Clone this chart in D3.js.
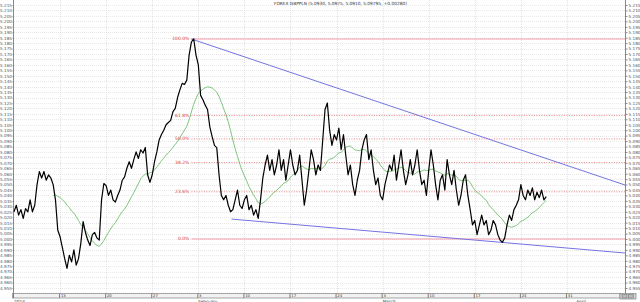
<!DOCTYPE html>
<html>
<head>
<meta charset="utf-8">
<script src="https://cdn.jsdelivr.net/npm/d3@7"></script>
<style>
  body{margin:0;background:#fff;}
  svg{display:block;font-family:"DejaVu Sans",sans-serif;}
</style>
</head>
<body>
<div id="container"></div>
<script>
// GBPPLN, 6-hour closes, one array per trading week (4 values a day)
let wkJan06 = [5.025,5.031,5.022,5.027, 5.019,5.028,5.025,5.036, 5.025,5.031,5.050,5.062, 5.056,5.062,5.054,5.059, 5.056,5.050,5.036,5.008];
let wkJan13 = [5.002,4.992,4.982,4.973, 4.985,4.979,4.990,4.976, 4.982,4.996,5.016,5.006, 4.999,4.994,5.004,5.006, 5.001,4.999,5.036,5.051];
let wkJan20 = [5.049,5.040,5.045,5.036, 5.034,5.040,5.045,5.054, 5.057,5.065,5.071,5.065, 5.073,5.080,5.074,5.082, 5.079,5.084,5.059,5.052];
let wkJan27 = [5.059,5.071,5.080,5.091, 5.096,5.100,5.105,5.107, 5.109,5.117,5.120,5.130, 5.137,5.143,5.142,5.146, 5.169,5.181,5.184,5.169];
let wkFeb03 = [5.160,5.132,5.128,5.123, 5.119,5.103,5.094,5.086, 5.084,5.059,5.040,5.036, 5.040,5.031,5.025,5.027, 5.036,5.045,5.031,5.028];
let wkFeb10 = [5.036,5.040,5.027,5.031, 5.022,5.027,5.019,5.036, 5.056,5.068,5.077,5.063, 5.073,5.059,5.068,5.082, 5.063,5.073,5.054,5.068];
let wkFeb17 = [5.082,5.068,5.059,5.063, 5.077,5.054,5.031,5.045, 5.063,5.082,5.073,5.059, 5.068,5.063,5.091,5.119, 5.125,5.100,5.086,5.096];
let wkFeb24 = [5.091,5.102,5.082,5.096, 5.077,5.059,5.068,5.050, 5.040,5.054,5.063,5.082, 5.091,5.096,5.073,5.082, 5.063,5.050,5.056,5.040];
let wkMar03 = [5.036,5.050,5.059,5.068, 5.063,5.077,5.054,5.068, 5.082,5.063,5.050,5.059, 5.073,5.059,5.068,5.082, 5.063,5.050,5.054,5.040];
let wkMar10 = [5.063,5.082,5.068,5.050, 5.036,5.054,5.059,5.045, 5.073,5.059,5.050,5.063, 5.045,5.031,5.040,5.054, 5.059,5.040,5.027,5.013];
let wkMar17 = [5.017,5.004,5.013,5.022, 5.013,5.017,5.004,5.008, 5.017,5.013,5.004,4.999, 4.997,5.001,5.013,5.022, 5.017,5.027,5.031,5.036];
let wkMar24 = [5.050,5.040,5.036,5.045, 5.040,5.047,5.036,5.043, 5.038,5.045,5.036,5.039];

let weekLabels = ["", "13", "20", "27", "3", "10", "17", "24", "3", "10", "17", "24", "31"];
let monthNames = ["2014", "February", "March", "April"];
let monthDays = [0, 20, 40, 61];

let fibLevels = [0, 23.6, 38.2, 50, 61.8, 100];
let fibHigh = 5.1838, fibLow = 5.0000, fibStartDay = 19.25;

// trendlines as [day, price] pairs
let upperTrend = [[19.25, 5.1838], [66.3, 5.0496]];
let lowerTrend = [[23.6, 5.0183], [66.3, 4.9871]];

let header = "FOREX GBPPLN (5.0930, 5.0975, 5.0910, 5.09795, +0.00280)";

let w = 640, h = 302;
let plotL = 14, plotR = 625, plotB = 293;

let closes = [].concat(wkJan06, wkJan13, wkJan20, wkJan27, wkFeb03, wkFeb10,
                       wkFeb17, wkFeb24, wkMar03, wkMar10, wkMar17, wkMar24);
let series = closes.map(function(v, i){ return {day: i/4, v: v}; });

// moving average (18 bars)
let maLen = 18;
let ma = [];
for (let i = maLen-1; i < series.length; i++) {
  ma.push({day: series[i].day, v: d3.mean(closes.slice(i-maLen+1, i+1))});
}

let svg = d3.select("#container").append("svg")
  .attr("width", w).attr("height", h);

let x = d3.scaleLinear().domain([0, 66.3]).range([plotL, plotR]);
let y = d3.scaleLinear().domain([4.95, 5.22]).range([293.4, -0.4]);

let yTicks = d3.range(991, 1044).map(function(i){ return +(i*0.005).toFixed(3); });
let weekDays = weekLabels.map(function(d, i){ return i*5; });

// grid
svg.append("g").selectAll("line").data(yTicks).enter().append("line")
  .attr("x1", plotL).attr("x2", plotR)
  .attr("y1", d=>Math.round(y(d))+0.5).attr("y2", d=>Math.round(y(d))+0.5)
  .attr("stroke", "#d8d8d8").attr("stroke-width", 0.6).attr("stroke-dasharray", "1,1");
svg.append("g").selectAll("line").data(weekDays.slice(1)).enter().append("line")
  .attr("x1", d=>Math.round(x(d))+0.5).attr("x2", d=>Math.round(x(d))+0.5)
  .attr("y1", 0).attr("y2", plotB)
  .attr("stroke", "#d0d0d0").attr("stroke-width", 0.6).attr("stroke-dasharray", "1,1");

// axes
let rightAxis = svg.append("g").attr("transform", "translate(" + (plotR+0.5) + ",0)")
  .call(d3.axisRight(y).tickValues(yTicks).tickSize(2).tickPadding(1).tickFormat(d3.format(".3f")));
let leftAxis = svg.append("g").attr("transform", "translate(" + (plotL-0.5) + ",0)")
  .call(d3.axisLeft(y).tickValues(yTicks).tickSize(1).tickPadding(0.5).tickFormat(d3.format(".3f")));
[rightAxis, leftAxis].forEach(function(a){
  a.select(".domain").attr("stroke", "#888").attr("d", "M0,0V" + plotB);
  a.selectAll("line").attr("stroke", "#888");
  a.selectAll("text").attr("font-size", 4.2).attr("fill", "#555").attr("font-family", "DejaVu Sans");
});

// fib retracement
svg.append("g").selectAll("line").data(fibLevels).enter().append("line")
  .attr("x1", x(fibStartDay)).attr("x2", plotR)
  .attr("y1", d=>y(fibLow + (fibHigh-fibLow)*d/100)).attr("y2", d=>y(fibLow + (fibHigh-fibLow)*d/100))
  .attr("stroke", d=>(d==0||d==100) ? "#f49aa6" : "#e84a4a")
  .attr("stroke-width", d=>(d==0||d==100) ? 1 : 0.7)
  .attr("stroke-dasharray", d=>(d==0||d==100) ? null : "1,1.5");
svg.append("g").selectAll("text").data(fibLevels).enter().append("text")
  .attr("x", x(fibStartDay)-2)
  .attr("y", d=>y(fibLow + (fibHigh-fibLow)*d/100)+1.5)
  .attr("text-anchor", "end").attr("font-size", 4.5).attr("fill", "#e03a3a")
  .text(d=>d3.format(".1f")(d)+"%");

// trendlines
let tl = d3.line().x(d=>x(d[0])).y(d=>y(d[1]));
[upperTrend, lowerTrend].forEach(function(t){
  svg.append("path").attr("d", tl(t)).attr("fill", "none")
    .attr("stroke", "#7474e4").attr("stroke-width", 1);
});

// moving average
svg.append("path").datum(ma)
  .attr("d", d3.line().x(d=>x(d.day)).y(d=>y(d.v)))
  .attr("fill", "none").attr("stroke", "#5cb85c").attr("stroke-width", 0.8);

// price
svg.append("path").datum(series)
  .attr("d", d3.line().x(d=>x(d.day)).y(d=>y(d.v)))
  .attr("fill", "none").attr("stroke", "#000").attr("stroke-width", 1.2)
  .attr("stroke-linejoin", "round");

// header
svg.append("text").attr("x", 274).attr("y", 5).attr("font-size", 4.3).attr("fill", "#333").text(header);

// bottom time bar
let bar = svg.append("g");
bar.append("rect").attr("x", plotL-1.5).attr("y", 293.5).attr("width", 620-plotL+1.5).attr("height", 4.5)
  .attr("fill", "#f2f2f2").attr("stroke", "#808080").attr("stroke-width", 0.7);
bar.selectAll("line.sep").data(weekDays).enter().append("line").classed("sep", true)
  .attr("x1", d=>x(d)-0.5).attr("x2", d=>x(d)-0.5).attr("y1", 293.5).attr("y2", 298)
  .attr("stroke", "#606060").attr("stroke-width", 0.8);
bar.selectAll("text.wk").data(weekLabels).enter().append("text").classed("wk", true)
  .attr("x", (d,i)=>x(weekDays[i])+0.8).attr("y", 297.4)
  .attr("font-size", 3.8).attr("fill", "#333").text(d=>d);
bar.selectAll("text.mo").data(monthNames).enter().append("text").classed("mo", true)
  .attr("x", (d,i)=>x(monthDays[i])).attr("y", 302.5)
  .attr("font-size", 4.3).attr("fill", "#444").text(d=>d);
bar.append("rect").attr("x", 620).attr("y", 293.5).attr("width", 16).attr("height", 5.5)
  .attr("fill", "#d8d8d8").attr("stroke", "#808080").attr("stroke-width", 0.7);
bar.selectAll("rect.btn").data([622, 628.5]).enter().append("rect").classed("btn", true)
  .attr("x", d=>d).attr("y", 294.5).attr("width", 5).attr("height", 3.5)
  .attr("fill", "#bbb").attr("stroke", "#666").attr("stroke-width", 0.5);
</script>
</body>
</html>
